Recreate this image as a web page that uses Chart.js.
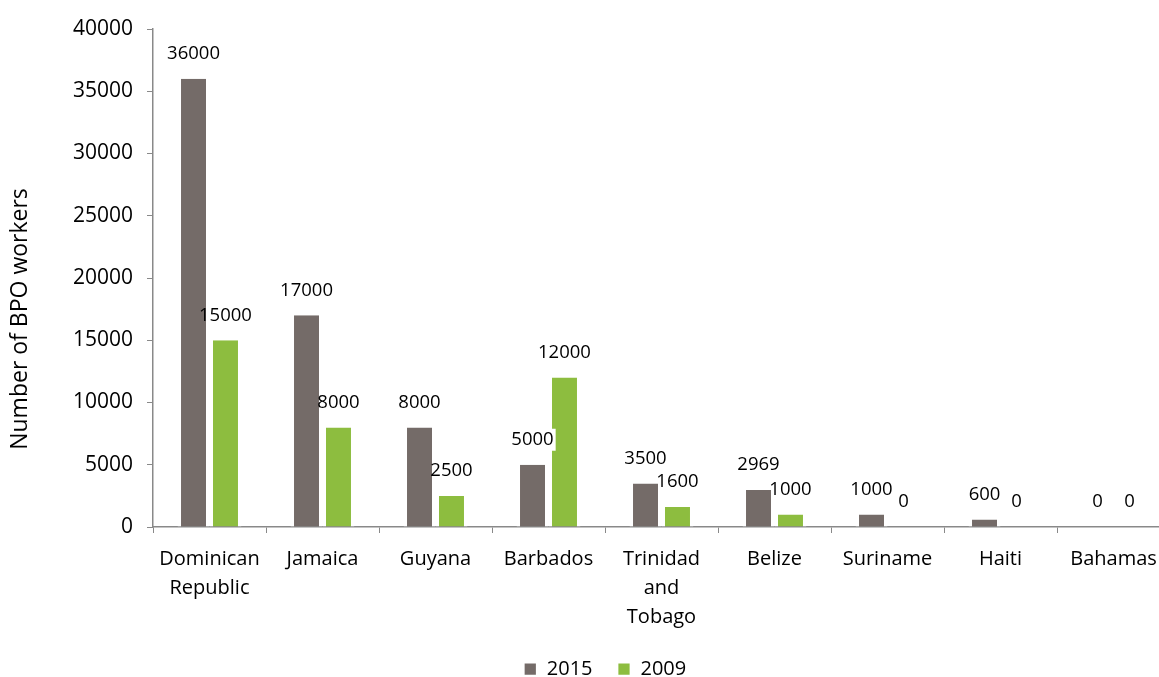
<!DOCTYPE html>
<html>
<head>
<meta charset="utf-8">
<script src="https://cdn.jsdelivr.net/npm/chart.js@4.4.0/dist/chart.umd.min.js"></script>
<style>
  body { margin: 0; overflow: hidden; background: #fff; }
  #wrap { width: 1210px; height: 677px; }
</style>
</head>
<body>
<div id="wrap"><canvas id="barChart"></canvas></div>
<script>
var categories = [['Dominican', 'Republic'], 'Jamaica', 'Guyana', 'Barbados', ['Trinidad', 'and', 'Tobago'], 'Belize', 'Suriname', 'Haiti', 'Bahamas'];
var workers2015 = [36000, 17000, 8000, 5000, 3500, 2969, 1000, 600, 0];
var workers2009 = [15000, 8000, 2500, 12000, 1600, 1000, 0, 0, 0];
var yTicks = [0, 5000, 10000, 15000, 20000, 25000, 30000, 35000, 40000];
var yTitle = 'Number of BPO workers';

var axisColor = '#898989';
var fontName = "'Open Sans', sans-serif";

// value labels above the bars (first series gets a white box behind it)
var barLabels = {
    id: 'barLabels',
    afterDatasetsDraw: function (chart) {
        var ctx = chart.ctx;
        ctx.save();
        ctx.font = '18.5px ' + fontName;
        ctx.textAlign = 'center';
        ctx.textBaseline = 'middle';
        chart.data.datasets.forEach(function (ds, i) {
            chart.getDatasetMeta(i).data.forEach(function (bar, j) {
                var txt = String(ds.data[j]);
                var y = bar.y - 25;
                if (i === 0) {
                    var w = ctx.measureText(txt).width + 4;
                    ctx.fillStyle = '#ffffff';
                    ctx.fillRect(bar.x - w / 2, y - 11, w, 22);
                }
                ctx.fillStyle = '#000000';
                ctx.fillText(txt, bar.x, y);
            });
        });
        ctx.restore();
    }
};

// y axis title, sits a bit below the middle like the original
var axisTitle = {
    id: 'axisTitle',
    afterDraw: function (chart) {
        var ctx = chart.ctx;
        ctx.save();
        ctx.translate(20, chart.chartArea.bottom - 208);
        ctx.rotate(-Math.PI / 2);
        ctx.font = '23px ' + fontName;
        ctx.fillStyle = '#000';
        ctx.textAlign = 'center';
        ctx.textBaseline = 'middle';
        ctx.fillText(yTitle, 0, 0);
        ctx.restore();
    }
};

var ctx = document.getElementById('barChart').getContext('2d');
var myChart = new Chart(ctx, {
    type: 'bar',
    data: {
        labels: categories,
        datasets: [
            {
                label: '2015',
                data: workers2015,
                backgroundColor: '#746b68',
                borderColor: '#ffffff',
                borderWidth: { left: 3.5, right: 3.5, top: 0, bottom: 0 },
                borderSkipped: false
            },
            {
                label: '2009',
                data: workers2009,
                backgroundColor: '#8dbd3f',
                borderColor: '#ffffff',
                borderWidth: { left: 3.5, right: 3.5, top: 0, bottom: 0 },
                borderSkipped: false
            }
        ]
    },
    options: {
        responsive: true,
        maintainAspectRatio: false,
        animation: false,
        categoryPercentage: 0.566,
        barPercentage: 1,
        layout: { padding: { top: 29, right: 40, left: 40, bottom: -12 } },
        plugins: {
            tooltip: { enabled: false },
            legend: {
                position: 'bottom',
                labels: {
                    color: '#000',
                    font: { family: fontName, size: 20 },
                    boxWidth: 13,
                    boxHeight: 13,
                    padding: 25
                }
            }
        },
        scales: {
            x: {
                grid: { drawOnChartArea: false, drawTicks: true, tickLength: 6, color: axisColor, offset: true },
                border: { color: axisColor, width: 1.5 },
                ticks: {
                    color: '#000',
                    font: { family: fontName, size: 20, lineHeight: 1.45 },
                    maxRotation: 0,
                    autoSkip: false,
                    padding: 12
                },
                afterFit: function (scale) { scale.height = scale.height - 10; }
            },
            y: {
                min: 0,
                max: 40000,
                afterBuildTicks: function (scale) {
                    scale.ticks = yTicks.map(function (v) { return { value: v }; });
                },
                afterFit: function (scale) { scale.width = 113; },
                grid: { drawOnChartArea: false, drawTicks: true, tickLength: 6, color: axisColor },
                border: { color: axisColor, width: 1.5 },
                ticks: {
                    color: '#000',
                    font: { family: fontName, size: 21 },
                    padding: 14,
                    callback: function (v) { return String(v); }
                }
            }
        }
    },
    plugins: [barLabels, axisTitle]
});
</script>
</body>
</html>
